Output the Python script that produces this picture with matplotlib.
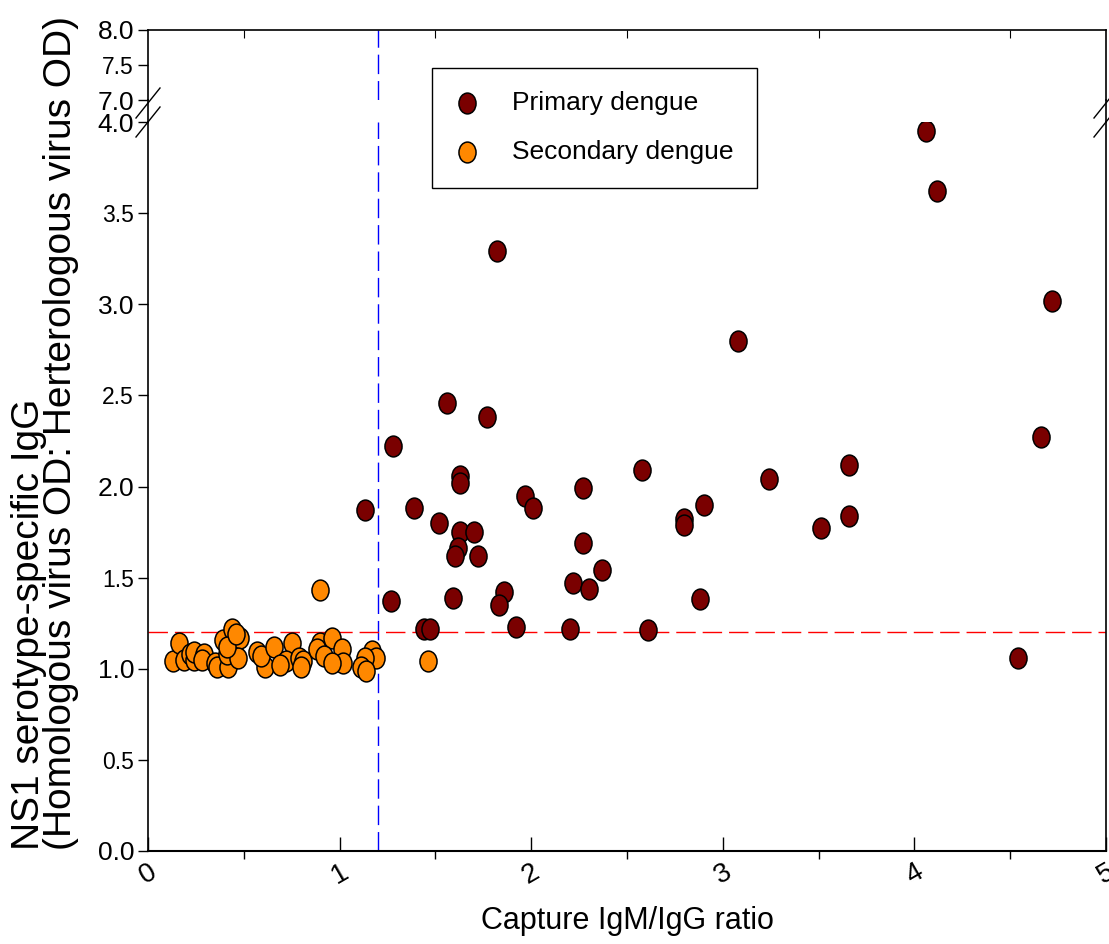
import matplotlib
matplotlib.use("Agg")
import matplotlib.pyplot as plt
from matplotlib import font_manager
from matplotlib.path import Path
from matplotlib.transforms import Affine2D
from matplotlib.lines import Line2D

# Primary dengue cases (ratio, NS1 IgG OD ratio)
primary_x = [4.06, 4.12, 4.72, 3.08, 1.82, 1.56, 1.77, 1.28, 1.63, 1.63,
             1.13, 1.39, 1.52, 1.63, 1.70, 1.62, 1.60, 1.72, 1.97, 2.01,
             2.27, 2.58, 2.27, 2.37, 2.22, 2.30, 1.27, 1.59, 1.86, 1.83,
             1.44, 1.47, 1.92, 2.20, 2.61, 2.80, 2.80, 2.90, 2.88, 3.24,
             3.66, 3.66, 3.51, 4.66, 4.54]
primary_y = [3.95, 3.62, 3.02, 2.80, 3.29, 2.46, 2.38, 2.22, 2.06, 2.02,
             1.87, 1.88, 1.80, 1.75, 1.75, 1.66, 1.62, 1.62, 1.95, 1.88,
             1.99, 2.09, 1.69, 1.54, 1.47, 1.44, 1.37, 1.39, 1.42, 1.35,
             1.22, 1.22, 1.23, 1.22, 1.21, 1.82, 1.79, 1.90, 1.38, 2.04,
             2.12, 1.84, 1.77, 2.27, 1.06]

# Secondary dengue cases
secondary_x = [0.13, 0.16, 0.19, 0.22, 0.24, 0.24, 0.29, 0.28, 0.35, 0.36,
               0.42, 0.39, 0.44, 0.48, 0.41, 0.47, 0.41, 0.46, 0.57, 0.61,
               0.59, 0.66, 0.75, 0.72, 0.69, 0.79, 0.81, 0.80, 0.90, 0.88,
               0.96, 0.92, 1.01, 1.02, 0.96, 1.17, 1.19, 1.13, 1.11, 1.14,
               0.90, 1.46]
secondary_y = [1.04, 1.14, 1.05, 1.08, 1.05, 1.09, 1.08, 1.05, 1.03, 1.01,
               1.01, 1.16, 1.22, 1.17, 1.08, 1.06, 1.12, 1.19, 1.09, 1.01,
               1.07, 1.12, 1.14, 1.04, 1.02, 1.06, 1.04, 1.01, 1.14, 1.11,
               1.17, 1.07, 1.11, 1.03, 1.03, 1.10, 1.06, 1.06, 1.01, 0.99,
               1.43, 1.04]

ratio_cutoff = 1.2
od_cutoff = 1.2

x_ticks = [0, 1, 2, 3, 4, 5]
x_minor = [0.5, 1.5, 2.5, 3.5, 4.5]
y_ticks_low = [0.0, 0.5, 1.0, 1.5, 2.0, 2.5, 3.0, 3.5, 4.0]
y_ticks_high = [7.0, 7.5, 8.0]

plt.rcParams['font.family'] = ['Liberation Sans', 'DejaVu Sans']

names = {f.name for f in font_manager.fontManager.ttflist}
if 'Liberation Sans Narrow' in names:
    narrow, xlab_size = 'Liberation Sans Narrow', 27
else:
    narrow, xlab_size = 'Liberation Sans', 22

W, H = 1109, 944
fig = plt.figure(figsize=(W / 100, H / 100), dpi=100)
ax_top = fig.add_axes([148 / W, 1 - 100 / H, 958 / W, 70 / H])
ax = fig.add_axes([148 / W, 1 - 851 / H, 958 / W, 729 / H])

# slightly tall oval marker like the original
oval = Path.unit_circle().transformed(Affine2D().scale(0.82, 1.0))

for a in (ax, ax_top):
    a.scatter(primary_x, primary_y, s=225, marker=oval, facecolor='#7a0000',
              edgecolor='black', linewidth=1.1, zorder=3, label='Primary dengue')
    a.scatter(secondary_x, secondary_y, s=225, marker=oval, facecolor='#ff8800',
              edgecolor='black', linewidth=1.1, zorder=3, label='Secondary dengue')
    a.axvline(ratio_cutoff, color='blue', linestyle=(0, (14, 5)), linewidth=1, zorder=2)
    a.set_xlim(0, 5)
    a.spines['left'].set_linewidth(1.2)
    a.spines['right'].set_linewidth(1.2)

ax.axhline(od_cutoff, color='red', linestyle=(0, (14, 5)), linewidth=1, zorder=2)

# lower axis
ax.set_ylim(0, 4)
ax.spines['top'].set_visible(False)
ax.spines['bottom'].set_linewidth(1.5)
ax.set_xticks(x_ticks)
ax.set_xticks(x_minor, minor=True)
ax.set_xticklabels([str(t) for t in x_ticks], rotation=30, fontsize=20)
ax.tick_params(axis='x', which='major', direction='in', length=10, width=1, pad=6)
ax.tick_params(axis='x', which='minor', direction='out', length=6, width=1)
ax.set_yticks(y_ticks_low)
ax.set_yticklabels([f'{v:.1f}' for v in y_ticks_low])
ax.tick_params(axis='y', direction='out', length=7, width=1, pad=3, right=False)
for lab, v in zip(ax.get_yticklabels(), y_ticks_low):
    lab.set_fontsize(19 if v == int(v) else 16.5)
ax.set_xlabel('Capture IgM/IgG ratio', family=narrow, fontsize=xlab_size, labelpad=12)

# upper axis (broken part)
ax_top.set_ylim(7, 8)
ax_top.spines['bottom'].set_visible(False)
ax_top.spines['top'].set_linewidth(1.2)
ax_top.set_xticks(x_minor)
ax_top.tick_params(axis='x', direction='in', length=6, top=True, bottom=False,
                   labeltop=False, labelbottom=False)
ax_top.set_yticks(y_ticks_high)
ax_top.set_yticklabels([f'{v:.1f}' for v in y_ticks_high])
ax_top.tick_params(axis='y', direction='out', length=7, width=1, pad=3)
for lab, v in zip(ax_top.get_yticklabels(), y_ticks_high):
    lab.set_fontsize(19 if v == int(v) else 16.5)

# join the spines across the gap and draw the break marks
for xp in (148, 1106):
    fig.add_artist(Line2D([xp / W, xp / W], [1 - 100 / H, 1 - 122 / H],
                          transform=fig.transFigure, color='black', linewidth=1.2))
    for yc in (103, 122):
        fig.add_artist(Line2D([(xp - 12) / W, (xp + 12) / W],
                              [1 - (yc + 15) / H, 1 - (yc - 15) / H],
                              transform=fig.transFigure, color='black', linewidth=1))

fig.text(45 / W, 1 - 850 / H,
         'NS1 serotype-specific IgG\n(Homologous virus OD: Herterologous virus OD)',
         rotation=90, ha='center', va='bottom', multialignment='left',
         fontsize=28, linespacing=0.88)

handles, labels = ax.get_legend_handles_labels()
leg = fig.legend(handles, labels, loc='upper left', bbox_to_anchor=(432 / W, 1 - 68 / H),
                 fontsize=19, frameon=True, fancybox=False, edgecolor='black',
                 framealpha=1, scatterpoints=1, handlelength=0.9, handletextpad=1.25,
                 borderpad=0.88, labelspacing=0.95, borderaxespad=0)
leg.get_frame().set_linewidth(1)

fig.savefig('out.png', dpi=100)
